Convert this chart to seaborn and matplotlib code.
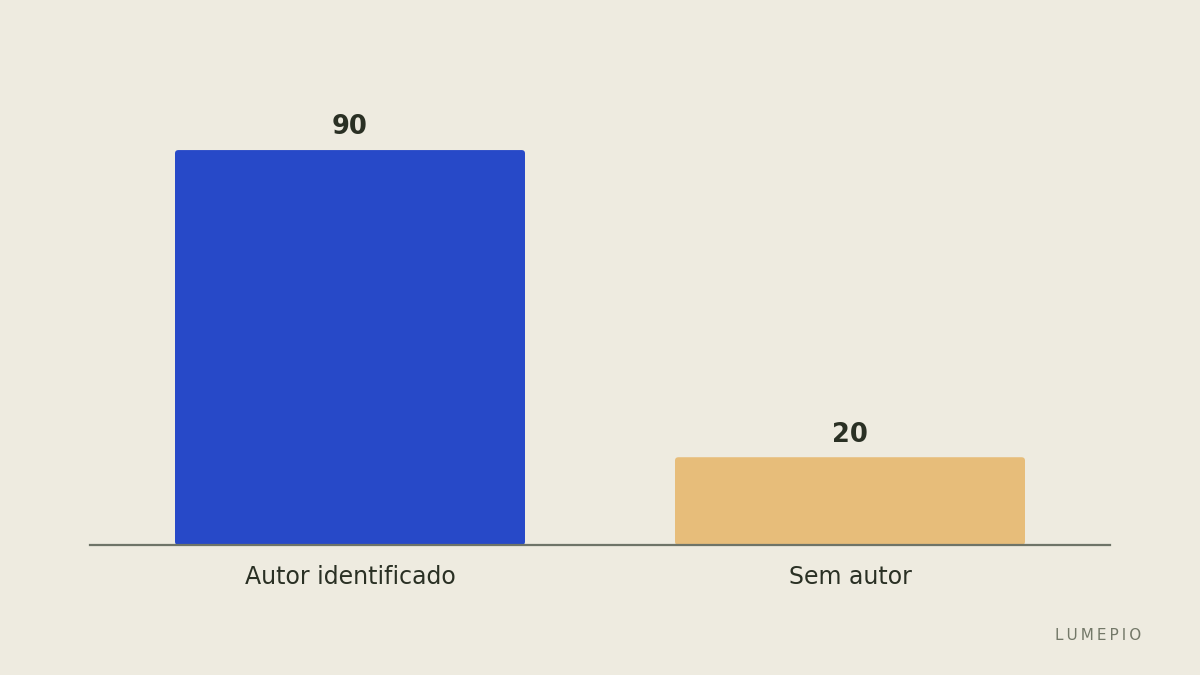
import seaborn as sns
import matplotlib.pyplot as plt
from matplotlib.patches import FancyBboxPatch

categories = ['Autor identificado', 'Sem autor']
values = [90, 20]
colors = ['#2749C8', '#E7BD7A']

bg = '#EEEBE0'
ink = '#2A3024'
axis_col = '#6E7468'

sns.set_theme(style='white')
plt.rcParams['font.family'] = ['DejaVu Sans']

fig = plt.figure(figsize=(12, 6.75), dpi=100, facecolor=bg)
ax = fig.add_axes([0.075, 0.1926, 0.85, 0.7333])
ax.set_facecolor(bg)

sns.barplot(x=categories, y=values, hue=categories, palette=colors,
            width=0.7, legend=False, ax=ax, saturation=1)

# swap the plain rectangles for slightly rounded ones
for bar in list(ax.patches):
    x, y = bar.get_x(), bar.get_y()
    w, h = bar.get_width(), bar.get_height()
    fc = bar.get_facecolor()
    bar.remove()
    ax.add_patch(FancyBboxPatch((x, y), w, h,
                                boxstyle='round,pad=0,rounding_size=0.007',
                                mutation_aspect=110, facecolor=fc,
                                edgecolor='none', zorder=2))

for i, v in enumerate(values):
    ax.annotate(f'{v}', (i, v), xytext=(0, 7), textcoords='offset points',
                ha='center', va='bottom', fontsize=18.5, fontweight='bold',
                color=ink)

ax.set_xlim(-0.52, 1.52)
ax.set_ylim(0, 112.8)
ax.set_yticks([])
ax.set_xlabel('')
ax.set_ylabel('')
ax.tick_params(axis='x', length=0, pad=14.5, labelsize=17, labelcolor=ink)
for s in ['top', 'right', 'left']:
    ax.spines[s].set_visible(False)
ax.spines['bottom'].set_color(axis_col)
ax.spines['bottom'].set_linewidth(1.6)
ax.spines['bottom'].set_zorder(3)

fig.text(0.951, 0.058, '\u2009'.join('LUMEPIO'), ha='right', va='center',
         fontsize=11, color='#737868')

fig.savefig('out.png', dpi=100, facecolor=bg)
